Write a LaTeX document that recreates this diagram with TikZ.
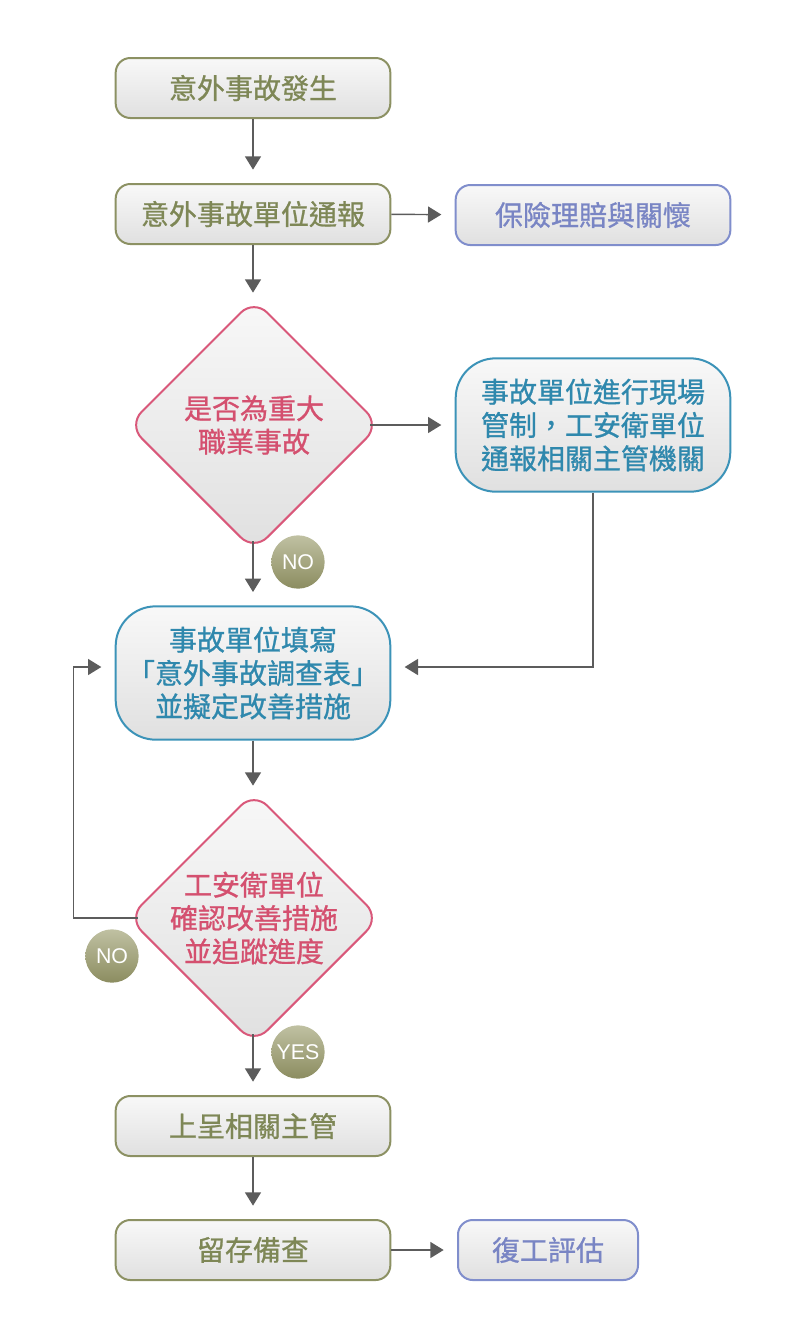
\documentclass[tikz,border=0pt]{standalone}
\usepackage{fontspec}
\usepackage{xcolor}
\usepackage{tikz}
\usetikzlibrary{shapes.geometric, arrows.meta}
\setmainfont{Noto Sans CJK TC}[FakeBold=0.9]
\newfontfamily\tagfont{Liberation Sans}

\definecolor{olivetext}{HTML}{7E8756}
\definecolor{oliveline}{HTML}{8C9163}
\definecolor{bluetext}{HTML}{7985C4}
\definecolor{blueline}{HTML}{808ECC}
\definecolor{pinktext}{HTML}{D4506F}
\definecolor{pinkline}{HTML}{D9587A}
\definecolor{tealtext}{HTML}{2F88AD}
\definecolor{tealline}{HTML}{3C93B8}
\definecolor{toplight}{HTML}{F8F8F8}
\definecolor{bottomdark}{HTML}{E0E0E0}
\definecolor{tagtop}{HTML}{C0C1A2}
\definecolor{tagbottom}{HTML}{8B8C60}
\definecolor{flowgrey}{HTML}{5C5C5C}

\begin{document}
\begin{tikzpicture}[x=0.75pt, y=-0.75pt,
  every node/.style={font=\fontsize{21}{25}\selectfont, align=center},
  box/.style={rectangle, rounded corners=11pt, line width=1.5pt, top color=toplight, bottom color=bottomdark, minimum width=206pt, minimum height=45pt, inner sep=0pt},
  olivebox/.style={box, draw=oliveline, text=olivetext},
  bluebox/.style={box, draw=blueline, text=bluetext},
  tealbox/.style={box, draw=tealline, text=tealtext, rounded corners=30pt, minimum height=100pt},
  decision/.style={diamond, aspect=1, rounded corners=14pt, line width=1.5pt, draw=pinkline, top color=toplight, bottom color=bottomdark, minimum width=189pt, minimum height=189pt, inner sep=0pt},
  tag/.style={circle, minimum size=40pt, inner sep=0pt, top color=tagtop, bottom color=tagbottom, text=white, font=\tagfont\fontsize{16}{16}\selectfont},
  flow/.style={draw=flowgrey, line width=1.1pt, -{Triangle[width=12pt,length=10pt]}, shorten >=10pt}]
  \useasboundingbox (0,0) rectangle (805,1336);

  % main column
  \node[olivebox] (start) at (253,88) {意外事故發生};
  \node[olivebox] (report) at (253,214) {意外事故單位通報};
  \node[bluebox] (insurance) at (593,215) {保險理賠與關懷};
  \node[decision, label={[text=pinktext]center:是否為重大\\職業事故}] (major) at (254,425) {};
  \node[tealbox] (onsite) at (593,425) {事故單位進行現場\\管制，工安衛單位\\通報相關主管機關};
  \node[tealbox] (fill) at (253,673) {事故單位填寫\\「意外事故調查表」\\並擬定改善措施};
  \node[decision, label={[text=pinktext]center:工安衛單位\\確認改善措施\\並追蹤進度}] (check) at (254,918) {};
  \node[olivebox] (submit) at (253,1126) {上呈相關主管};
  \node[olivebox] (keep) at (253,1250) {留存備查};
  \node[bluebox, minimum width=135pt] (resume) at (548,1250) {復工評估};

  % answer tags
  \node[tag] (no1) at (298,562) {NO};
  \node[tag] (no2) at (112,956) {NO};
  \node[tag] (yes) at (298,1052) {YES};

  % connectors
  \draw[flow] (start) -- (report);
  \draw[flow] (report) -- (insurance);
  \draw[flow] (report.south) -- ([yshift=-6pt]major.north -| report.south);
  \draw[flow] ([xshift=-8pt]major.east) -- (onsite.west |- major.east);
  \draw[flow] ([yshift=8pt]major.south -| fill.north) -- (fill.north);
  \draw[flow] (onsite.south) |- ([yshift=4.5pt]fill.east);
  \draw[flow] (fill.south) -- ([yshift=-6pt]check.north -| fill.south);
  \draw[flow] ([xshift=8pt]check.west) -- ++(-64,0) |- ([yshift=4.5pt]fill.west);
  \draw[flow] ([yshift=8pt]check.south -| submit.north) -- (submit.north);
  \draw[flow] (submit) -- (keep);
  \draw[flow] (keep) -- (resume);
\end{tikzpicture}
\end{document}
